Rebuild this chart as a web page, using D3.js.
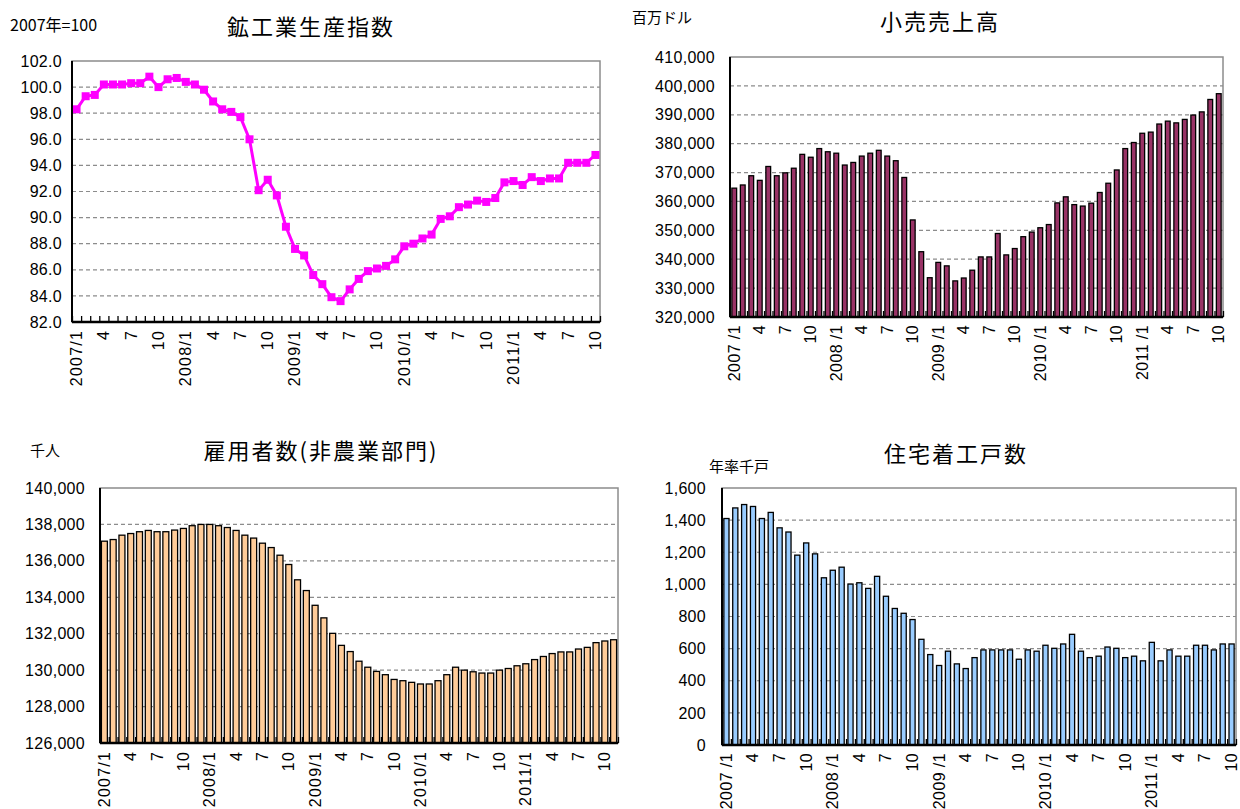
<!DOCTYPE html>
<html>
<head>
<meta charset="utf-8">
<script src="https://cdn.jsdelivr.net/npm/d3@7/dist/d3.min.js"></script>
<style>
  body { margin: 0; background: #fff; }
  svg { display: block; }
  .tick text { font-family: "Liberation Sans", Arial, sans-serif; fill: #000; }
  .jp { font-family: "Noto Sans CJK JP", "Liberation Sans", sans-serif; fill: #000; }
</style>
</head>
<body>
<svg id="chart" width="1240" height="809"></svg>
<script>
// months 2007/1 .. 2011/11
var years = [2007, 2008, 2009, 2010, 2011];
var months = [];
years.forEach(function (yr) {
    for (var m = 1; m <= 12; m++) {
        if (yr === 2011 && m > 11) break;
        months.push({ year: yr, month: m });
    }
});

// 鉱工業生産指数 (2007年=100), 2007/1 - 2011/10
var industrialProduction = [98.3, 99.3, 99.4, 100.2, 100.2, 100.2, 100.3, 100.3, 100.8, 100.0,
    100.6, 100.7, 100.4, 100.2, 99.8, 98.9, 98.3, 98.1, 97.7, 96.0,
    92.1, 92.9, 91.7, 89.3, 87.6, 87.1, 85.6, 84.9, 83.9, 83.6,
    84.5, 85.3, 85.9, 86.1, 86.3, 86.8, 87.8, 88.0, 88.4, 88.7,
    89.9, 90.1, 90.8, 91.0, 91.3, 91.2, 91.5, 92.7, 92.8, 92.5,
    93.1, 92.8, 93.0, 93.0, 94.2, 94.2, 94.2, 94.8];

// 小売売上高 (百万ドル), 2007/1 - 2011/10
var retailSales = [364600, 365700, 368900, 367300, 372100, 368900, 369900, 371500, 376300, 375300,
    378300, 377200, 376700, 372600, 373500, 375700, 376700, 377700, 375700, 374100,
    368300, 353600, 342600, 333600, 338900, 337700, 332500, 333500, 336200, 340800,
    340800, 348900, 341500, 343700, 347800, 349400, 350900, 352000, 359500, 361600,
    358900, 358400, 359400, 363100, 366300, 370900, 378300, 380400, 383600, 384000,
    386800, 387800, 387200, 388400, 389900, 391000, 395300, 397300];

// 雇用者数(非農業部門) (千人), 2007/1 - 2011/11
var payrolls = [137080, 137170, 137410, 137500, 137600, 137670, 137600, 137600, 137690, 137780,
    137930, 138000, 138000, 137930, 137830, 137670, 137410, 137250, 136970, 136730,
    136310, 135800, 134960, 134370, 133560, 132870, 132020, 131360, 131020, 130490,
    130160, 129930, 129750, 129490, 129420, 129330, 129240, 129240, 129420, 129750,
    130160, 130000, 129910, 129840, 129840, 130000, 130090, 130240, 130350, 130580,
    130750, 130910, 131000, 131000, 131160, 131250, 131510, 131600, 131670];

// 住宅着工戸数 (年率千戸), 2007/1 - 2011/10
var housingStarts = [1410, 1476, 1497, 1485, 1410, 1448, 1352, 1326, 1182, 1258,
    1190, 1041, 1088, 1107, 1002, 1010, 975, 1050, 926, 850,
    820, 781, 658, 563, 495, 584, 505, 476, 544, 592,
    592, 592, 592, 534, 592, 584, 621, 602, 629, 689,
    584, 544, 553, 610, 602, 544, 553, 524, 639, 524,
    592, 553, 553, 621, 621, 592, 629, 629];

var ipTicks = [82, 84, 86, 88, 90, 92, 94, 96, 98, 100, 102];
var retailTicks = [320000, 330000, 340000, 350000, 360000, 370000, 380000, 390000, 400000, 410000];
var payrollTicks = [126000, 128000, 130000, 132000, 134000, 136000, 138000, 140000];
var housingTicks = [0, 200, 400, 600, 800, 1000, 1200, 1400, 1600];

var svg = d3.select('#chart');

function monthLabel(d, spaced) {
    if (d.month === 1) return d.year + (spaced ? ' /1' : '/1');
    return String(d.month);
}

function drawPanel(o) {
    var n = o.nCats;
    var cats = months.slice(0, n);
    var g = svg.append('g').attr('class', 'panel');

    var x = d3.scaleBand().domain(d3.range(n)).range([o.left, o.right]).padding(0);
    var xEdge = d3.scaleLinear().domain([0, n]).range([o.left, o.right]);
    var y = d3.scaleLinear().domain([o.ticks[0], o.ticks[o.ticks.length - 1]]).range([o.bottom, o.top]);

    // plot frame
    g.append('rect')
        .attr('x', o.left).attr('y', o.top)
        .attr('width', o.right - o.left).attr('height', o.bottom - o.top)
        .attr('fill', '#fff')
        .attr('stroke', '#8c8c8c')
        .attr('stroke-width', 1.5);

    // grid
    g.append('g')
        .selectAll('line')
        .data(o.ticks.slice(1, -1))
        .join('line')
        .attr('x1', o.left).attr('x2', o.right)
        .attr('y1', function (d) { return y(d); })
        .attr('y2', function (d) { return y(d); })
        .attr('stroke', '#8c8c8c')
        .attr('stroke-width', 1.2)
        .attr('stroke-dasharray', '4,3');

    // marks
    if (o.type === 'bar') {
        var bw = x.bandwidth() * o.barRatio;
        g.append('g')
            .selectAll('rect')
            .data(o.values)
            .join('rect')
            .attr('x', function (d, i) { return x(i) + (x.bandwidth() - bw) / 2; })
            .attr('y', function (d) { return y(d); })
            .attr('width', bw)
            .attr('height', function (d) { return y(o.ticks[0]) - y(d); })
            .attr('fill', o.color)
            .attr('stroke', '#000')
            .attr('stroke-width', 1.3);
    }

    // x axis: inner ticks at category edges
    g.append('g')
        .attr('transform', 'translate(0,' + o.bottom + ')')
        .call(d3.axisBottom(xEdge).tickValues(d3.range(n + 1)).tickSize(-6).tickFormat(''))
        .call(function (a) {
            a.select('.domain').remove();
            a.selectAll('line').attr('stroke', '#000').attr('stroke-width', 1.3);
        });

    if (o.type === 'line') {
        var line = d3.line()
            .x(function (d, i) { return x(i) + x.bandwidth() / 2; })
            .y(function (d) { return y(d); });
        g.append('path')
            .datum(o.values)
            .attr('d', line)
            .attr('fill', 'none')
            .attr('stroke', o.color)
            .attr('stroke-width', 3);
        g.append('g')
            .selectAll('rect')
            .data(o.values)
            .join('rect')
            .attr('x', function (d, i) { return x(i) + x.bandwidth() / 2 - 4; })
            .attr('y', function (d) { return y(d) - 4; })
            .attr('width', 8)
            .attr('height', 8)
            .attr('fill', o.color);
    }

    // axis lines (left & bottom black)
    g.append('line')
        .attr('x1', o.left).attr('x2', o.right)
        .attr('y1', o.bottom).attr('y2', o.bottom)
        .attr('stroke', '#000').attr('stroke-width', 2.5);
    g.append('line')
        .attr('x1', o.left).attr('x2', o.left)
        .attr('y1', o.top).attr('y2', o.bottom)
        .attr('stroke', '#000').attr('stroke-width', 2);

    // y axis labels
    g.append('g')
        .attr('transform', 'translate(' + o.left + ',0)')
        .call(d3.axisLeft(y).tickValues(o.ticks).tickSize(0).tickPadding(o.yPad).tickFormat(o.fmt))
        .call(function (a) {
            a.select('.domain').remove();
            a.selectAll('text').attr('font-size', '16px').attr('letter-spacing', '0.3px');
        });

    // x labels
    var labelIdx = d3.range(0, n).filter(function (i) { return i % 3 === 0; });
    g.append('g')
        .attr('transform', 'translate(0,' + o.bottom + ')')
        .call(d3.axisBottom(x).tickValues(labelIdx).tickSize(0)
            .tickFormat(function (i) { return monthLabel(cats[i], o.spaced); }))
        .call(function (a) {
            a.select('.domain').remove();
            a.selectAll('text')
                .attr('font-size', '16px')
                .attr('letter-spacing', o.spaced ? '0.4px' : '1.2px')
                .attr('transform', 'rotate(-90)')
                .attr('text-anchor', 'end')
                .attr('x', -8)
                .attr('y', 0)
                .attr('dy', '0.34em');
        });

    // title and unit
    svg.append('text')
        .attr('class', 'jp')
        .attr('x', o.titleX).attr('y', o.titleY)
        .attr('text-anchor', 'middle')
        .attr('dominant-baseline', 'central')
        .attr('font-size', '22px')
        .attr('letter-spacing', '2px')
        .text(o.title);
    svg.append('text')
        .attr('class', 'jp')
        .attr('x', o.unitX).attr('y', o.unitY)
        .attr('dominant-baseline', 'central')
        .attr('font-size', o.unitSize || '15px')
        .text(o.unit);
}

drawPanel({
    type: 'line', values: industrialProduction, nCats: 58, color: '#ff00ff',
    left: 72, right: 600, top: 61, bottom: 322,
    ticks: ipTicks, fmt: d3.format('.1f'), yPad: 10, spaced: false,
    title: '鉱工業生産指数', titleX: 311, titleY: 25,
    unit: '2007年=100', unitX: 10, unitY: 24, unitSize: '16px'
});

drawPanel({
    type: 'bar', values: retailSales, nCats: 58, color: '#993366', barRatio: 0.56,
    left: 730, right: 1223, top: 57, bottom: 317,
    ticks: retailTicks, fmt: d3.format(','), yPad: 15, spaced: true,
    title: '小売売上高', titleX: 940, titleY: 20,
    unit: '百万ドル', unitX: 632, unitY: 16
});

drawPanel({
    type: 'bar', values: payrolls, nCats: 59, color: '#ffcc99', barRatio: 0.68,
    left: 100, right: 618, top: 488, bottom: 743,
    ticks: payrollTicks, fmt: d3.format(','), yPad: 15, spaced: false,
    title: '雇用者数(非農業部門)', titleX: 321, titleY: 449,
    unit: '千人', unitX: 30, unitY: 449
});

drawPanel({
    type: 'bar', values: housingStarts, nCats: 58, color: '#99ccff', barRatio: 0.58,
    left: 722, right: 1236, top: 488, bottom: 745,
    ticks: housingTicks, fmt: d3.format(','), yPad: 16, spaced: true,
    title: '住宅着工戸数', titleX: 956, titleY: 452,
    unit: '年率千戸', unitX: 709, unitY: 465
});
</script>
</body>
</html>
